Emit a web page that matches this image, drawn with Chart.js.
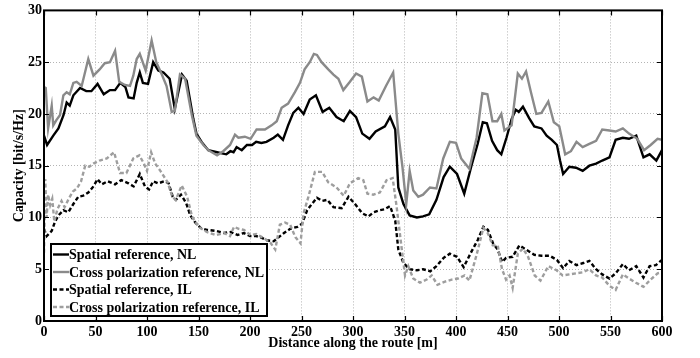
<!DOCTYPE html>
<html>
<head>
<meta charset="utf-8">
<script src="https://cdn.jsdelivr.net/npm/chart.js@4.4.1/dist/chart.umd.min.js"></script>
<style>
  html, body { margin: 0; padding: 0; background: #fff; }
  canvas { display: block; }
</style>
</head>
<body>
<canvas id="capChart" width="700" height="358"></canvas>
<script>
// capacity along the route, four measurement series
const xTicks = [0, 50, 100, 150, 200, 250, 300, 350, 400, 450, 500, 550, 600];
const yTicks = [0, 5, 10, 15, 20, 25, 30];

const spatialNlX = [0, 3, 9, 14, 19, 22, 25, 28.5, 35, 41, 46, 52, 58, 64, 69, 74, 79, 82, 87, 90, 93, 96, 101, 106, 111, 116, 122, 127, 134, 138.5, 145, 148, 153, 159.5, 168, 177, 181, 184, 187, 192, 197, 202, 206, 211, 216, 223, 227, 232, 237, 242, 247, 252, 258, 264, 270.5, 277, 284, 291, 297, 303, 309, 316, 322, 331, 336, 341, 344, 349, 355, 362, 368, 374, 381, 388, 394, 401, 408, 415, 421, 426, 430, 435, 440, 444, 449, 454, 458, 461, 465, 471, 476, 483, 488, 493, 498, 501, 504, 510, 516.5, 523, 529.5, 536, 542, 549, 555, 562, 568, 575, 582, 588, 594.5, 600];
const spatialNlY = [17.9, 17.0, 17.9, 18.6, 19.9, 21.1, 20.8, 21.8, 22.5, 22.2, 22.2, 22.9, 21.9, 22.3, 22.3, 23.0, 22.6, 21.6, 21.5, 23.0, 24.0, 23.0, 22.9, 25.0, 24.2, 24.0, 23.4, 20.5, 23.8, 23.2, 19.5, 18.1, 17.3, 16.5, 16.3, 16.1, 16.4, 16.3, 16.8, 16.5, 17.0, 17.0, 17.3, 17.2, 17.3, 17.7, 18.0, 17.5, 18.9, 20.1, 20.6, 20.0, 21.4, 21.8, 20.2, 20.6, 19.7, 19.3, 20.3, 19.7, 18.1, 17.6, 18.3, 18.8, 19.7, 18.5, 12.9, 11.3, 10.2, 10.0, 10.1, 10.3, 11.7, 13.9, 14.9, 14.2, 12.3, 15.0, 17.1, 19.2, 19.1, 17.4, 16.5, 16.1, 17.7, 19.5, 20.4, 20.2, 20.7, 19.6, 18.8, 18.6, 17.9, 17.5, 17.0, 15.5, 14.2, 14.9, 14.8, 14.5, 15.0, 15.2, 15.5, 15.8, 17.5, 17.7, 17.6, 17.9, 15.8, 16.1, 15.5, 16.5];

const crossNlX = [0, 1.7, 4, 7.5, 9, 12, 15.6, 18.8, 22, 25, 28.5, 31.7, 36.6, 43, 48, 54, 59, 64, 69, 73, 78.6, 83.5, 86.7, 90, 93, 98.7, 104.5, 109, 114, 119, 124, 127, 132, 137, 143.5, 148, 154.7, 159.5, 168, 174, 180.6, 185.4, 188.7, 195, 200.6, 206.4, 214.5, 221, 226, 230.7, 237, 243.6, 248.5, 253, 258, 262, 265, 269.5, 276, 281, 285.8, 290.6, 297, 303, 308.6, 314, 320, 325, 332, 339, 344, 348, 351.7, 355, 358.5, 363.4, 368, 374.7, 381, 387.6, 394, 400, 405, 413, 420, 425.6, 430.5, 435.4, 440, 444, 447, 454, 460, 464, 468, 473, 478, 483, 489.6, 495, 500.3, 506, 511.6, 517, 523, 529.5, 536, 542, 549, 555, 562, 568, 576, 582.6, 589, 595.7, 600];
const crossNlY = [22.6, 22.5, 18.6, 20.8, 18.9, 19.4, 19.9, 21.8, 22.1, 21.9, 23.0, 23.1, 22.7, 25.3, 23.7, 24.3, 24.9, 25.0, 26.1, 23.1, 22.8, 22.7, 23.7, 25.3, 25.8, 24.2, 27.1, 25.0, 23.9, 22.7, 20.2, 20.3, 23.8, 23.4, 19.9, 17.9, 17.0, 16.5, 16.0, 16.4, 17.0, 18.0, 17.7, 17.8, 17.6, 18.5, 18.5, 18.9, 19.3, 20.6, 21.0, 22.1, 23.0, 24.3, 25.0, 25.8, 25.7, 25.0, 24.3, 23.8, 23.4, 22.3, 23.1, 23.9, 23.6, 21.2, 21.6, 21.3, 22.7, 24.0, 18.1, 14.9, 11.3, 14.5, 12.6, 12.0, 12.2, 12.9, 12.8, 15.7, 17.3, 17.2, 15.7, 14.7, 17.7, 22.0, 21.9, 19.3, 19.3, 20.0, 18.4, 18.9, 23.9, 23.4, 24.1, 22.0, 20.0, 20.1, 21.2, 19.2, 18.8, 16.1, 16.4, 17.3, 16.8, 17.1, 17.4, 18.5, 18.4, 18.3, 18.6, 18.1, 17.6, 16.5, 17.0, 17.6, 17.5];

const spatialIlX = [0, 2.6, 7.5, 10.7, 14, 18.8, 23.6, 28.5, 33.3, 38, 43, 48, 52, 56, 62, 69, 75, 82, 87, 93, 98, 102, 106, 111, 117, 121, 125, 128, 133, 138, 142, 147, 152, 158, 167, 175, 181, 188, 194, 200, 206, 210, 216.5, 223, 228, 233, 239, 246, 250.5, 255.5, 260, 265, 270, 275, 281, 289, 295.6, 302, 309, 315, 320, 326, 331, 336, 341, 344, 349, 355, 362, 368, 375, 381, 388, 394, 401, 407.4, 415, 421, 426.6, 431, 436, 440.5, 444.7, 448.6, 455, 461.5, 468, 476, 483, 491, 498, 504, 510, 517, 523.6, 529.5, 536, 542, 549, 555, 562, 568, 575, 582, 588, 594, 600];
const spatialIlY = [8.9, 8.2, 8.7, 9.6, 10.2, 10.7, 10.5, 11.3, 12.0, 12.1, 12.4, 13.0, 13.7, 13.2, 13.5, 13.2, 13.6, 13.3, 13.0, 14.2, 13.0, 12.7, 13.5, 13.3, 13.5, 13.3, 12.0, 11.7, 12.2, 11.4, 10.2, 9.5, 9.0, 8.8, 8.7, 8.5, 8.6, 8.3, 8.5, 8.2, 8.2, 8.1, 7.8, 7.7, 8.1, 8.5, 8.9, 9.1, 9.4, 10.7, 11.3, 11.9, 11.6, 11.7, 11.0, 10.9, 12.0, 11.3, 10.4, 10.1, 10.5, 10.7, 10.8, 11.1, 9.7, 6.9, 5.6, 5.0, 4.9, 5.0, 4.8, 5.3, 6.1, 6.5, 6.2, 5.2, 6.7, 7.8, 9.1, 8.8, 7.5, 6.9, 5.7, 6.1, 6.2, 7.3, 6.9, 6.4, 6.3, 6.3, 5.9, 5.1, 5.8, 5.4, 5.6, 5.8, 5.0, 4.5, 4.1, 4.6, 5.5, 4.9, 5.3, 4.2, 5.3, 5.4, 5.9];

const crossIlX = [0, 1.2, 2.5, 4, 6, 8, 10, 13, 17, 20, 24, 28, 32, 36, 40, 44, 48, 54, 61, 68, 73.8, 80, 86.7, 92.6, 97, 100, 104, 108, 113, 120, 124.6, 128, 133.7, 139, 143.7, 150, 158, 167, 175, 180.6, 184.5, 189, 194, 200.6, 206, 211.6, 219.6, 224.5, 229, 234, 239, 244, 249, 252, 257, 263, 270, 276, 284, 291, 297, 305, 310, 314, 319.6, 326, 332.6, 338.5, 342.4, 346.3, 350.5, 353.7, 358.5, 365, 371.5, 376.4, 382, 389.3, 395.8, 402, 408.4, 413, 420, 426.6, 430.8, 435.7, 440.5, 444.7, 448.6, 452, 455, 460, 465, 470, 476.4, 482, 489.6, 497.7, 503.5, 510, 516.5, 523, 529.5, 536, 542, 549, 555, 562, 568, 574.7, 582, 589, 595.7, 600];
const crossIlY = [6.6, 13.7, 10.0, 12.2, 11.2, 11.8, 9.6, 10.8, 11.6, 11.0, 11.8, 12.5, 12.8, 13.5, 15.0, 14.9, 15.2, 15.5, 15.7, 16.3, 14.3, 14.3, 15.7, 16.0, 15.2, 14.5, 16.3, 15.2, 14.5, 13.4, 12.0, 11.7, 13.1, 12.0, 10.1, 9.1, 8.6, 8.3, 8.5, 8.2, 9.1, 8.9, 8.8, 8.3, 8.4, 8.1, 7.6, 6.9, 9.3, 9.5, 9.3, 8.1, 7.5, 10.4, 12.1, 14.4, 14.4, 13.4, 12.9, 12.1, 13.3, 13.8, 13.6, 12.3, 12.2, 12.4, 13.6, 13.8, 11.0, 7.8, 4.4, 5.3, 4.1, 3.7, 4.0, 4.4, 3.5, 3.8, 4.0, 4.1, 4.4, 3.9, 6.4, 9.0, 8.5, 7.3, 7.3, 5.0, 4.0, 4.4, 3.2, 6.5, 7.0, 6.2, 4.4, 3.9, 5.3, 4.9, 4.4, 4.5, 4.6, 4.7, 5.0, 4.4, 4.2, 3.4, 3.0, 4.5, 4.1, 3.7, 3.3, 4.0, 4.6, 4.7];

function pts(xs, ys) {
  return xs.map((x, i) => ({ x: x, y: ys[i] }));
}

const serif = "'Liberation Serif', 'Times New Roman', serif";

// box around the plot with inward ticks on all four sides
const framePlugin = {
  id: 'frame',
  afterDraw(chart) {
    const { ctx, chartArea: a, scales } = chart;
    ctx.save();
    ctx.strokeStyle = '#000';
    ctx.lineWidth = 1.2;
    ctx.beginPath();
    xTicks.forEach(v => {
      const px = Math.round(scales.x.getPixelForValue(v)) + 0.5;
      ctx.moveTo(px, a.bottom); ctx.lineTo(px, a.bottom - 5);
      ctx.moveTo(px, a.top); ctx.lineTo(px, a.top + 5);
    });
    yTicks.forEach(v => {
      const py = Math.round(scales.y.getPixelForValue(v)) + 0.5;
      ctx.moveTo(a.left, py); ctx.lineTo(a.left + 5, py);
      ctx.moveTo(a.right, py); ctx.lineTo(a.right - 5, py);
    });
    ctx.stroke();
    ctx.lineWidth = 2;
    ctx.strokeRect(a.left, a.top, a.right - a.left, a.bottom - a.top);
    ctx.restore();
  }
};

// legend box in the lower left corner of the plot
const boxLegend = {
  id: 'boxLegend',
  afterDatasetsDraw(chart) {
    const { ctx, chartArea: a } = chart;
    const w = 216, h = 72;
    const left = a.left + 7, top = a.bottom - 5 - h;
    ctx.save();
    ctx.fillStyle = '#fff';
    ctx.fillRect(left, top, w, h);
    ctx.strokeStyle = '#000';
    ctx.lineWidth = 2;
    ctx.strokeRect(left, top, w, h);
    ctx.font = 'bold 14px ' + serif;
    ctx.textBaseline = 'middle';
    chart.data.datasets.forEach((ds, i) => {
      const y = top + 10.5 + i * 17.5;
      ctx.strokeStyle = ds.borderColor;
      ctx.lineWidth = ds.borderWidth;
      ctx.setLineDash(ds.borderDash || []);
      ctx.beginPath();
      ctx.moveTo(left + 2, y);
      ctx.lineTo(left + 18, y);
      ctx.stroke();
      ctx.setLineDash([]);
      ctx.fillStyle = '#000';
      ctx.fillText(ds.label, left + 18, y + 1);
    });
    ctx.restore();
  }
};

const lineBase = { pointRadius: 0, borderWidth: 2.4, tension: 0, fill: false };

new Chart(document.getElementById('capChart'), {
  type: 'line',
  data: {
    datasets: [
      Object.assign({ label: 'Spatial reference, NL', data: pts(spatialNlX, spatialNlY),
        borderColor: '#000', order: 4 }, lineBase),
      Object.assign({ label: 'Cross polarization reference, NL', data: pts(crossNlX, crossNlY),
        borderColor: '#8a8a8a', order: 3 }, lineBase),
      Object.assign({ label: 'Spatial reference, IL', data: pts(spatialIlX, spatialIlY),
        borderColor: '#000', borderDash: [4, 2.5], order: 2 }, lineBase),
      Object.assign({ label: 'Cross polarization reference, IL', data: pts(crossIlX, crossIlY),
        borderColor: '#9e9e9e', borderDash: [4, 2.5], order: 1 }, lineBase)
    ]
  },
  options: {
    responsive: false,
    animation: false,
    events: [],
    layout: { padding: { top: 7, right: 38, left: 0, bottom: 0 } },
    plugins: { legend: { display: false }, tooltip: { enabled: false } },
    scales: {
      x: {
        type: 'linear', min: 0, max: 600,
        afterBuildTicks: s => { s.ticks = xTicks.map(v => ({ value: v })); },
        afterFit: s => { s.height = 37; },
        grid: { color: '#b4b4b4', lineWidth: 1, drawTicks: false, borderDash: [1, 2] },
        border: { display: false, dash: [1, 2] },
        ticks: { padding: 3, color: '#000', font: { family: serif, size: 14, weight: 'bold' } },
        title: { display: true, text: 'Distance along the route [m]', color: '#000',
          padding: { top: 0, bottom: 6 }, font: { family: serif, size: 14, weight: 'bold' } }
      },
      y: {
        type: 'linear', min: 0, max: 30,
        afterBuildTicks: s => { s.ticks = yTicks.map(v => ({ value: v })); },
        afterFit: s => { s.width = 44; },
        grid: { color: '#b4b4b4', lineWidth: 1, drawTicks: false, borderDash: [1, 2] },
        border: { display: false, dash: [1, 2] },
        ticks: { padding: 2, color: '#000', font: { family: serif, size: 14, weight: 'bold' } },
        title: { display: true, text: 'Capacity [bit/s/Hz]', color: '#000',
          padding: { top: 11, bottom: 0 }, font: { family: serif, size: 14, weight: 'bold' } }
      }
    }
  },
  plugins: [boxLegend, framePlugin]
});
</script>
</body>
</html>
